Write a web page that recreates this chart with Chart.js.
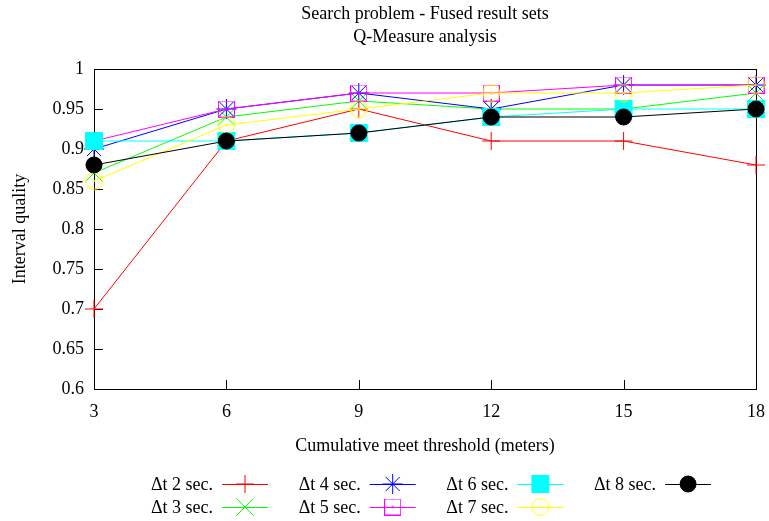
<!DOCTYPE html>
<html><head><meta charset="utf-8">
<script src="https://cdn.jsdelivr.net/npm/chart.js@4.4.1/dist/chart.umd.min.js"></script>
<style>html,body{margin:0;padding:0;background:#fff}#wrap{width:769px;height:521px;position:relative}</style>
</head><body><div id="wrap"><canvas id="c" width="769" height="521"></canvas></div>
<script>
const titleLines = ['Search problem - Fused result sets', 'Q-Measure analysis'];
const xAxisTitle = 'Cumulative meet threshold (meters)';
const yAxisTitle = 'Interval quality';
const thresholds = [3, 6, 9, 12, 15, 18];
const xTickLabels = ['3', '6', '9', '12', '15', '18'];
const yTicks = [0.6, 0.65, 0.7, 0.75, 0.8, 0.85, 0.9, 0.95, 1];
const yTickLabels = ['0.6', '0.65', '0.7', '0.75', '0.8', '0.85', '0.9', '0.95', '1'];
const seriesNames = ['Δt 2 sec.', 'Δt 3 sec.', 'Δt 4 sec.', 'Δt 5 sec.', 'Δt 6 sec.', 'Δt 7 sec.', 'Δt 8 sec.'];
const dt2 = [0.70, 0.91, 0.95, 0.91, 0.91, 0.88];
const dt3 = [0.87, 0.94, 0.96, 0.95, 0.95, 0.97];
const dt4 = [0.90, 0.95, 0.97, 0.95, 0.98, 0.98];
const dt5 = [0.91, 0.95, 0.97, 0.97, 0.98, 0.98];
const dt6 = [0.91, 0.91, 0.92, 0.94, 0.95, 0.95];
const dt7 = [0.86, 0.93, 0.95, 0.97, 0.97, 0.98];
const dt8 = [0.88, 0.91, 0.92, 0.94, 0.94, 0.95];
const seriesValues = [dt2, dt3, dt4, dt5, dt6, dt7, dt8];

const FONT = "'Liberation Serif', 'Times New Roman', serif";

function makeSquareDot(color) {
  const c = document.createElement('canvas');
  c.width = 17; c.height = 17;
  const g = c.getContext('2d');
  g.strokeStyle = color; g.lineWidth = 1;
  g.strokeRect(0.5, 0.5, 16, 16);
  g.fillStyle = color;
  g.fillRect(7.5, 7.5, 2, 2);
  return c;
}
function makeCircleDot(color) {
  const c = document.createElement('canvas');
  c.width = 19; c.height = 19;
  const g = c.getContext('2d');
  g.strokeStyle = color; g.lineWidth = 1;
  g.beginPath(); g.arc(9.5, 9.5, 8.5, 0, Math.PI * 2); g.stroke();
  g.fillStyle = color;
  g.fillRect(8.5, 8.5, 2, 2);
  return c;
}

const styles = [
  { color: '#ff0000', pointStyle: 'cross', radius: 9, fill: '#ff0000' },
  { color: '#00ff00', pointStyle: 'crossRot', radius: 12, fill: '#00ff00' },
  { color: '#0000ff', pointStyle: 'star', radius: 10, fill: '#0000ff' },
  { color: '#ff00ff', pointStyle: makeSquareDot('#ff00ff'), radius: 9, fill: '#ff00ff' },
  { color: '#00ffff', pointStyle: 'rect', radius: 12, fill: '#00ffff' },
  { color: '#ffff00', pointStyle: makeCircleDot('#ffff00'), radius: 9, fill: '#ffff00' },
  { color: '#000000', pointStyle: 'circle', radius: 8, fill: '#000000' }
];

const datasets = seriesValues.map((vals, i) => ({
  label: seriesNames[i],
  data: thresholds.map((x, j) => ({ x: x, y: vals[j] })),
  borderColor: styles[i].color,
  backgroundColor: styles[i].fill,
  borderWidth: 1,
  pointStyle: styles[i].pointStyle,
  pointRadius: styles[i].radius,
  pointBorderWidth: 1,
  pointBorderColor: styles[i].color,
  pointBackgroundColor: styles[i].fill,
  tension: 0,
  fill: false,
  clip: false,
  order: seriesValues.length - i
}));

const decorPlugin = {
  id: 'decor',
  beforeDatasetsDraw(chart) {
    const ctx = chart.ctx, a = chart.chartArea;
    const xs = chart.scales.x, ys = chart.scales.y;
    ctx.save();
    ctx.strokeStyle = '#000'; ctx.lineWidth = 1;
    ctx.strokeRect(Math.round(a.left) + 0.5, Math.round(a.top) + 0.5, Math.round(a.right - a.left), Math.round(a.bottom - a.top));
    ctx.beginPath();
    thresholds.forEach(v => {
      const px = Math.round(xs.getPixelForValue(v)) + 0.5;
      ctx.moveTo(px, a.bottom); ctx.lineTo(px, a.bottom - 9);
    });
    yTicks.forEach(v => {
      const py = Math.round(ys.getPixelForValue(v)) + 0.5;
      ctx.moveTo(a.left, py); ctx.lineTo(a.left + 9, py);
    });
    ctx.stroke();
    ctx.restore();
  },
  afterDraw(chart) {
    const ctx = chart.ctx, a = chart.chartArea;
    const cx = (a.left + a.right) / 2;
    ctx.save();
    ctx.fillStyle = '#000';
    ctx.font = '18px ' + FONT;
    ctx.textAlign = 'center';
    ctx.textBaseline = 'alphabetic';
    ctx.fillText(titleLines[0], cx, 19);
    ctx.fillText(titleLines[1], cx, 42);
    ctx.fillText(xAxisTitle, cx, 451);
    ctx.save();
    ctx.translate(25, (a.top + a.bottom) / 2);
    ctx.rotate(-Math.PI / 2);
    ctx.fillText(yAxisTitle, 0, 0);
    ctx.restore();
    // legend: column-major, 2 rows
    const colStart = 222, colStep = 147.7, rowY = [484, 507], sampleLen = 46;
    chart.data.datasets.forEach((ds, i) => {
      const col = Math.floor(i / 2), row = i % 2;
      const x0 = colStart + col * colStep, y = rowY[row];
      ctx.fillStyle = '#000';
      ctx.textAlign = 'right';
      ctx.fillText(ds.label, x0 - 9, y + 6);
      ctx.strokeStyle = ds.borderColor; ctx.lineWidth = 1;
      ctx.beginPath(); ctx.moveTo(x0, y + 0.5); ctx.lineTo(x0 + sampleLen, y + 0.5); ctx.stroke();
      ctx.fillStyle = ds.pointBackgroundColor;
      ctx.strokeStyle = ds.pointBorderColor;
      Chart.helpers.drawPoint(ctx, { pointStyle: ds.pointStyle, radius: ds.pointRadius, rotation: 0, borderWidth: 1 }, x0 + sampleLen / 2, y);
    });
    ctx.restore();
  }
};

new Chart(document.getElementById('c'), {
  type: 'line',
  data: { datasets: datasets },
  plugins: [decorPlugin],
  options: {
    responsive: false,
    animation: false,
    events: [],
    layout: { padding: { top: 69, right: 12, left: 0, bottom: 0 } },
    plugins: { legend: { display: false }, title: { display: false }, tooltip: { enabled: false } },
    scales: {
      x: {
        type: 'linear', min: 3, max: 18,
        afterBuildTicks(s) { s.ticks = thresholds.map(v => ({ value: v })); },
        afterFit(s) { s.height = 132; s.paddingLeft = 0; s.paddingRight = 0; },
        grid: { display: false, drawTicks: false },
        border: { display: false },
        ticks: { color: '#000', font: { family: FONT, size: 18 }, padding: 12, maxRotation: 0, autoSkip: false,
          callback: (v, i) => xTickLabels[i] }
      },
      y: {
        type: 'linear', min: 0.6, max: 1,
        afterBuildTicks(s) { s.ticks = yTicks.map(v => ({ value: v })); },
        afterFit(s) { s.width = 94; s.paddingTop = 0; s.paddingBottom = 0; },
        grid: { display: false, drawTicks: false },
        border: { display: false },
        ticks: { color: '#000', font: { family: FONT, size: 18 }, padding: 10, autoSkip: false,
          callback: (v, i) => yTickLabels[i] }
      }
    }
  }
});
</script>
</body></html>
